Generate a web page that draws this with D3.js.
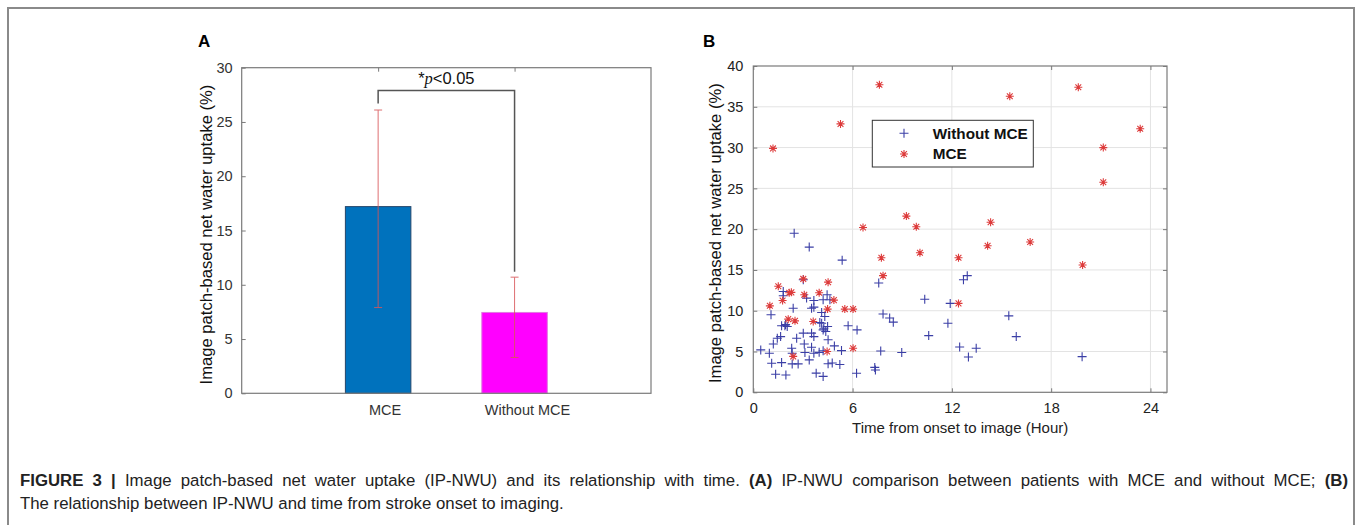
<!DOCTYPE html>
<html>
<head>
<meta charset="utf-8">
<script src="https://cdn.jsdelivr.net/npm/d3@7"></script>
<style>
  body { margin: 0; background: #fff; }
  svg { display: block; font-family: "Liberation Sans", Arial, sans-serif; }
</style>
</head>
<body>
<svg id="fig" width="1357" height="525"></svg>
<script>
// ---- Panel A data ----
const barCategories = ["MCE", "Without MCE"];
const barMeans = [17.2, 7.45];
const barErrLow = [7.9, 3.3];
const barErrHigh = [26.1, 10.7];
const barColors = ["#0072BD", "#FF00FF"];
const barYTicks = [0, 5, 10, 15, 20, 25, 30];
const bracketTop = 27.9;
const bracketEnds = [26.7, 11.2];

// ---- Panel B data ----
const timeTicks = [0, 6, 12, 18, 24];
const uptakeTicks = [0, 5, 10, 15, 20, 25, 30, 35, 40];
const withoutMCE = [
  [2.47, 19.5], [3.38, 17.8], [5.37, 16.2], [7.58, 13.4], [10.36, 11.4], [11.9, 10.9],
  [12.7, 13.8], [12.93, 14.3], [7.84, 9.6], [8.24, 9.1], [8.46, 8.6], [5.73, 8.15],
  [6.27, 7.65], [10.6, 6.95], [11.76, 8.47], [12.47, 5.55], [13.0, 4.33], [13.47, 5.4],
  [15.44, 9.37], [15.89, 6.83], [19.87, 4.37], [7.7, 5.07], [8.97, 4.87], [7.34, 3.05],
  [7.38, 2.74], [6.24, 2.33], [5.23, 3.4], [4.77, 3.6], [4.52, 3.5], [4.22, 1.95],
  [3.8, 2.35], [1.97, 2.12], [1.35, 2.21], [1.11, 3.56], [1.71, 3.64], [0.97, 4.79],
  [0.45, 5.2], [2.35, 3.48], [2.71, 3.48], [2.32, 5.4], [2.35, 4.79], [3.12, 4.87],
  [3.52, 5.53], [3.38, 3.97], [3.66, 4.79], [3.98, 4.9], [4.22, 5.1], [4.52, 6.45],
  [4.9, 5.69], [5.33, 5.11], [1.21, 5.93], [1.45, 6.63], [1.65, 6.83], [2.62, 6.63],
  [3.02, 7.25], [3.08, 5.93], [3.52, 7.25], [3.66, 6.83], [4.26, 7.86], [4.38, 7.45],
  [4.02, 8.55], [4.49, 8.06], [1.91, 8.15], [2.05, 8.06], [1.71, 8.15], [1.95, 8.3],
  [1.07, 9.5], [2.41, 10.3], [3.66, 10.44], [4.13, 9.78], [3.02, 13.8], [1.81, 12.36],
  [3.22, 11.55], [3.66, 11.25], [4.22, 11.34], [4.46, 11.95], [4.63, 11.34], [1.81, 11.83],
  [3.52, 10.3], [4.32, 9.29], [4.13, 8.47], [4.22, 7.65]
];
const withMCE = [
  [1.19, 29.9], [5.27, 32.9], [7.62, 37.7], [15.5, 36.3], [19.64, 37.4], [23.38, 32.3],
  [21.15, 30.0], [21.15, 25.75], [14.34, 20.84], [14.16, 17.97], [16.73, 18.43], [19.9, 15.6],
  [6.63, 20.2], [9.25, 21.6], [9.85, 20.3], [10.07, 17.1], [7.74, 16.5], [7.84, 14.3],
  [12.4, 16.5], [12.4, 10.9], [6.03, 10.2], [5.53, 10.2], [6.03, 5.4], [4.46, 5.0],
  [2.41, 4.4], [1.0, 10.6], [1.51, 13.0], [1.77, 11.25], [2.17, 12.2], [2.3, 12.25],
  [3.02, 13.9], [3.08, 11.95], [3.98, 12.2], [4.52, 13.5], [4.87, 11.3], [4.49, 10.2],
  [2.11, 8.97], [2.52, 8.76], [3.62, 8.67]
];
const legendLabels = ["Without MCE", "MCE"];

const axisColor = "#7a7a7a";
const textColor = "#333";
const svg = d3.select("#fig");

// outer frame
svg.append("rect")
  .attr("x", 8).attr("y", 8)
  .attr("width", 1346).attr("height", 540)
  .attr("fill", "none")
  .attr("stroke", "#8a8a8a")
  .attr("stroke-width", 2);

// ================= Panel A =================
const xA = d3.scaleLinear().domain([0, 3]).range([241.7, 651]);
const yA = d3.scaleLinear().domain([0, 30]).range([393.3, 67.7]);

const gA = svg.append("g");

// y axis (ticks inside)
gA.append("g")
  .attr("transform", `translate(${xA(0)},0)`)
  .call(d3.axisLeft(yA).tickValues(barYTicks).tickSize(-4).tickPadding(9))
  .call(g => g.select(".domain").remove())
  .call(g => g.selectAll("line").attr("stroke", axisColor))
  .call(g => g.selectAll("text").attr("fill", textColor).style("font-size", "14.5px").attr("font-family", null));

// x axis
gA.append("g")
  .attr("transform", `translate(0,${yA(0)})`)
  .call(d3.axisBottom(xA).tickValues([1, 2]).tickSize(-4).tickFormat(""))
  .call(g => g.select(".domain").remove())
  .call(g => g.selectAll("line").attr("stroke", axisColor));
gA.append("g")
  .call(d3.axisTop(xA).tickValues([1, 2]).tickSize(-4).tickFormat(""))
  .attr("transform", `translate(0,${yA(30)})`)
  .call(g => g.select(".domain").remove())
  .call(g => g.selectAll("line").attr("stroke", axisColor));

gA.selectAll(".xlab")
  .data(barCategories)
  .enter().append("text")
  .attr("x", (d, i) => xA(i + 1) + 7 + i * 6)
  .attr("y", yA(0) + 22)
  .attr("text-anchor", "middle")
  .attr("fill", textColor)
  .style("font-size", "14.5px")
  .text(d => d);

// bars
const barW = xA(0.48) - xA(0);
gA.selectAll(".bar")
  .data(barMeans)
  .enter().append("rect")
  .attr("x", (d, i) => xA(i + 1) - barW / 2)
  .attr("y", d => yA(d))
  .attr("width", barW)
  .attr("height", d => yA(0) - yA(d))
  .attr("fill", (d, i) => barColors[i])
  .attr("stroke", (d, i) => i === 0 ? "#23456a" : "#e07ae0")
  .attr("stroke-width", 1);

// error bars
barMeans.forEach((m, i) => {
  const cx = xA(i + 1);
  const eb = gA.append("g").attr("stroke", "#d9575a").attr("stroke-width", 1).attr("opacity", 0.85);
  eb.append("line").attr("x1", cx).attr("x2", cx).attr("y1", yA(barErrLow[i])).attr("y2", yA(barErrHigh[i]));
  [barErrLow[i], barErrHigh[i]].forEach(v => {
    eb.append("line").attr("x1", cx - 4).attr("x2", cx + 4).attr("y1", yA(v)).attr("y2", yA(v));
  });
});

// significance bracket
gA.append("path")
  .attr("d", `M${xA(1)},${yA(bracketEnds[0])}V${yA(bracketTop)}H${xA(2)}V${yA(bracketEnds[1])}`)
  .attr("fill", "none")
  .attr("stroke", "#555")
  .attr("stroke-width", 1.5);
const pText = gA.append("text")
  .attr("x", (xA(1) + xA(2)) / 2)
  .attr("y", yA(bracketTop) - 6)
  .attr("text-anchor", "middle")
  .attr("fill", "#111")
  .style("font-size", "16.5px");
pText.append("tspan").text("*");
pText.append("tspan").attr("font-family", "'Liberation Serif', 'Times New Roman', serif").attr("font-style", "italic").text("p");
pText.append("tspan").text("<0.05");

// box
gA.append("rect")
  .attr("x", xA(0)).attr("y", yA(30))
  .attr("width", xA(3) - xA(0)).attr("height", yA(0) - yA(30))
  .attr("fill", "none").attr("stroke", axisColor).attr("stroke-width", 1.2);

gA.append("text")
  .attr("transform", `translate(212,${(yA(0) + yA(30)) / 2 + 4}) rotate(-90)`)
  .attr("text-anchor", "middle")
  .attr("fill", "#111")
  .style("font-size", "16.6px")
  .text("Image patch-based net water uptake (%)");

svg.append("text")
  .attr("x", 198).attr("y", 47)
  .attr("font-weight", "bold")
  .style("font-size", "17px")
  .text("A");

// ================= Panel B =================
const xB = d3.scaleLinear().domain([0, 25]).range([753.3, 1167]);
const yB = d3.scaleLinear().domain([0, 40]).range([392.3, 66]);
const gB = svg.append("g");

// grid
gB.append("g")
  .selectAll("line")
  .data(timeTicks.slice(1))
  .enter().append("line")
  .attr("x1", d => xB(d)).attr("x2", d => xB(d))
  .attr("y1", yB(0)).attr("y2", yB(40))
  .attr("stroke", "#e3e3e3");
gB.append("g")
  .selectAll("line")
  .data(uptakeTicks.slice(1, -1))
  .enter().append("line")
  .attr("x1", xB(0)).attr("x2", xB(25))
  .attr("y1", d => yB(d)).attr("y2", d => yB(d))
  .attr("stroke", "#e3e3e3");

// axes with inward ticks
gB.append("g")
  .attr("transform", `translate(${xB(0)},0)`)
  .call(d3.axisLeft(yB).tickValues(uptakeTicks).tickSize(-4).tickPadding(10))
  .call(g => g.select(".domain").remove())
  .call(g => g.selectAll("line").attr("stroke", axisColor))
  .call(g => g.selectAll("text").attr("fill", "#222").style("font-size", "14.5px").attr("font-family", null));
gB.append("g")
  .attr("transform", `translate(${xB(25)},0)`)
  .call(d3.axisRight(yB).tickValues(uptakeTicks).tickSize(-4).tickFormat(""))
  .call(g => g.select(".domain").remove())
  .call(g => g.selectAll("line").attr("stroke", axisColor));
gB.append("g")
  .attr("transform", `translate(0,${yB(0)})`)
  .call(d3.axisBottom(xB).tickValues(timeTicks).tickSize(-4).tickPadding(10))
  .call(g => g.select(".domain").remove())
  .call(g => g.selectAll("line").attr("stroke", axisColor))
  .call(g => g.selectAll("text").attr("fill", "#222").style("font-size", "14.5px").attr("font-family", null));
gB.append("g")
  .attr("transform", `translate(0,${yB(40)})`)
  .call(d3.axisTop(xB).tickValues(timeTicks).tickSize(-4).tickFormat(""))
  .call(g => g.select(".domain").remove())
  .call(g => g.selectAll("line").attr("stroke", axisColor));

// markers
const plusPath = "M-4.5,0H4.5M0,-4.5V4.5";
const starPath = "M-4,0H4M0,-4V4M-2.9,-2.9L2.9,2.9M-2.9,2.9L2.9,-2.9";
gB.append("g")
  .selectAll("path")
  .data(withoutMCE)
  .enter().append("path")
  .attr("transform", d => `translate(${xB(d[0])},${yB(d[1])})`)
  .attr("d", plusPath)
  .attr("fill", "none")
  .attr("stroke", "#3b3fa6")
  .attr("stroke-width", 1.1);
gB.append("g")
  .selectAll("path")
  .data(withMCE)
  .enter().append("path")
  .attr("transform", d => `translate(${xB(d[0])},${yB(d[1])})`)
  .attr("d", starPath)
  .attr("fill", "none")
  .attr("stroke", "#dd3b3b")
  .attr("stroke-width", 1.1);

// box
gB.append("rect")
  .attr("x", xB(0)).attr("y", yB(40))
  .attr("width", xB(25) - xB(0)).attr("height", yB(0) - yB(40))
  .attr("fill", "none").attr("stroke", axisColor).attr("stroke-width", 1.2);

// legend
const legend = gB.append("g").attr("transform", "translate(872.3,120.3)");
legend.append("rect")
  .attr("width", 161).attr("height", 46.7)
  .attr("fill", "#fff").attr("stroke", "#333").attr("stroke-width", 1);
legendLabels.forEach((lab, i) => {
  legend.append("path")
    .attr("transform", `translate(31.7,${13 + i * 20.7})`)
    .attr("d", i === 0 ? plusPath : starPath)
    .attr("fill", "none")
    .attr("stroke", i === 0 ? "#3b3fa6" : "#dd3b3b")
    .attr("stroke-width", 1.1);
  legend.append("text")
    .attr("x", 60.4).attr("y", 18.5 + i * 20.7)
    .attr("font-weight", "bold")
    .attr("fill", "#111")
    .style("font-size", "15.3px")
    .text(lab);
});

gB.append("text")
  .attr("x", (xB(0) + xB(25)) / 2)
  .attr("y", 433)
  .attr("text-anchor", "middle")
  .attr("fill", "#222")
  .style("font-size", "15px")
  .text("Time from onset to image (Hour)");
gB.append("text")
  .attr("transform", `translate(721,${(yB(0) + yB(40)) / 2 + 4}) rotate(-90)`)
  .attr("text-anchor", "middle")
  .attr("fill", "#111")
  .style("font-size", "16.6px")
  .text("Image patch-based net water uptake (%)");

svg.append("text")
  .attr("x", 703).attr("y", 47)
  .attr("font-weight", "bold")
  .style("font-size", "17px")
  .text("B");

// ================= Caption =================
// first line justified to the full width with extra word spacing
const cap1 = svg.append("text")
  .attr("x", 20).attr("y", 486)
  .attr("fill", "#222")
  .style("font-size", "16.8px");
cap1.append("tspan").attr("font-weight", "bold").text("FIGURE 3 | ");
cap1.append("tspan").text("Image patch-based net water uptake (IP-NWU) and its relationship with time. ");
cap1.append("tspan").attr("font-weight", "bold").text("(A)");
cap1.append("tspan").text(" IP-NWU comparison between patients with MCE and without MCE; ");
cap1.append("tspan").attr("font-weight", "bold").text("(B)");

const len1 = cap1.node().getComputedTextLength();
const spaces = cap1.text().split(" ").length - 1;
if (len1 < 1328) {
  cap1.attr("word-spacing", (1328 - len1) / spaces);
} else {
  cap1.attr("textLength", 1328).attr("lengthAdjust", "spacingAndGlyphs");
}

svg.append("text")
  .attr("x", 20).attr("y", 509)
  .attr("fill", "#222")
  .style("font-size", "16.8px")
  .text("The relationship between IP-NWU and time from stroke onset to imaging.");
</script>
</body>
</html>
